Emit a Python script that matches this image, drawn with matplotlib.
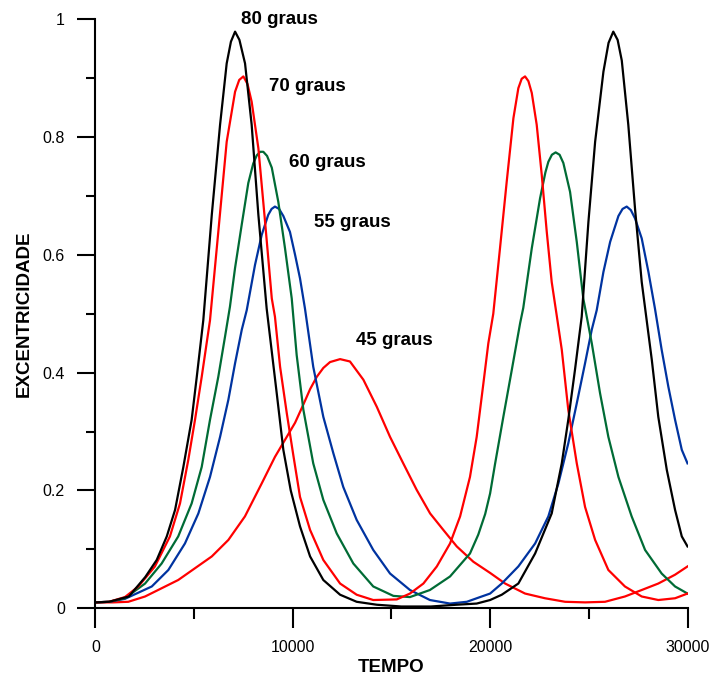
import matplotlib
matplotlib.use('Agg')
import matplotlib.pyplot as plt

plt.rcParams['font.family'] = ['Liberation Sans', 'DejaVu Sans']

# eccentricity vs time
t80 = [0, 700, 1700, 2530, 3110, 3620, 4040, 4460, 4880, 5140, 5470, 5900, 6320, 6655,
       6870, 7080, 7300, 7585, 7920, 8260, 8680, 9190, 9525, 9900, 10370, 10880, 11550,
       12400, 13240, 14260, 15500, 17000, 18300, 19320, 20000, 20590, 21430, 22280, 23120,
       23630, 23960, 24300, 24640, 24980, 25320, 25740, 26000, 26240, 26460, 26670, 27000,
       27340, 27680, 28190, 28520, 28950, 29370, 29710, 30000]
e80 = [0.010, 0.011, 0.020, 0.053, 0.082, 0.122, 0.167, 0.240, 0.320, 0.393, 0.489, 0.668,
       0.821, 0.925, 0.962, 0.979, 0.965, 0.925, 0.821, 0.668, 0.509, 0.365, 0.269, 0.200,
       0.139, 0.088, 0.048, 0.023, 0.011, 0.006, 0.003, 0.003, 0.006, 0.008, 0.014, 0.023,
       0.042, 0.093, 0.161, 0.246, 0.320, 0.405, 0.495, 0.656, 0.792, 0.911, 0.960, 0.979,
       0.965, 0.930, 0.821, 0.679, 0.554, 0.422, 0.325, 0.235, 0.167, 0.122, 0.105]

t70 = [0, 700, 1500, 2180, 3020, 3780, 4290, 4710, 5050, 5390, 5810, 6230, 6655, 7080,
       7290, 7500, 7710, 7920, 8260, 8600, 8940, 9100, 9360, 9700, 10030, 10370, 10880,
       11550, 12400, 13240, 14080, 15270, 15940, 16620, 17300, 17970, 18480, 18980, 19320,
       19660, 19910, 20160, 20500, 20840, 21180, 21430, 21600, 21770, 21940, 22110, 22360,
       22615, 22870, 23120, 23370, 23630, 23960, 24390, 24810, 25320, 25990, 26830, 27680,
       28520, 29370, 30000]
e70 = [0.010, 0.011, 0.019, 0.037, 0.071, 0.122, 0.178, 0.252, 0.320, 0.393, 0.489, 0.639,
       0.792, 0.877, 0.897, 0.903, 0.890, 0.860, 0.781, 0.656, 0.526, 0.495, 0.410, 0.331,
       0.260, 0.189, 0.133, 0.082, 0.042, 0.023, 0.014, 0.015, 0.025, 0.042, 0.071, 0.110,
       0.156, 0.223, 0.291, 0.382, 0.450, 0.500, 0.611, 0.724, 0.832, 0.883, 0.899, 0.903,
       0.895, 0.875, 0.821, 0.736, 0.639, 0.554, 0.498, 0.439, 0.337, 0.246, 0.172, 0.116,
       0.065, 0.037, 0.020, 0.014, 0.017, 0.025]

t60 = [0, 700, 1500, 2520, 3360, 4200, 4880, 5390, 5810, 6230, 6570, 6820, 7080, 7420,
       7750, 8000, 8180, 8350, 8510, 8700, 8940, 9270, 9610, 9950, 10200, 10540, 11040,
       11550, 12230, 13070, 14080, 15100, 15940, 16950, 17970, 18980, 19400, 19750, 20000,
       20250, 20670, 21100, 21520, 21680, 22110, 22530, 22800, 22950, 23130, 23320, 23520,
       23710, 24050, 24390, 24720, 25150, 25570, 25990, 26500, 27170, 27850, 28690, 29370,
       30000]
e60 = [0.010, 0.011, 0.017, 0.042, 0.076, 0.122, 0.178, 0.240, 0.320, 0.393, 0.461, 0.512,
       0.578, 0.652, 0.722, 0.755, 0.769, 0.775, 0.775, 0.768, 0.748, 0.690, 0.611, 0.526,
       0.430, 0.337, 0.246, 0.184, 0.127, 0.076, 0.037, 0.021, 0.019, 0.031, 0.054, 0.093,
       0.125, 0.160, 0.195, 0.245, 0.325, 0.405, 0.484, 0.510, 0.611, 0.696, 0.740, 0.758,
       0.770, 0.774, 0.770, 0.756, 0.707, 0.622, 0.526, 0.450, 0.365, 0.291, 0.223, 0.156,
       0.099, 0.059, 0.037, 0.025]

t55 = [0, 700, 1500, 2860, 3700, 4540, 5220, 5810, 6320, 6740, 7080, 7420, 7670, 8090,
       8430, 8760, 8930, 9100, 9310, 9525, 9860, 10120, 10370, 10620, 11040, 11550, 12060,
       12560, 13240, 14080, 14930, 15940, 16950, 17970, 18820, 19490, 20000, 20590, 21430,
       22280, 22950, 23460, 23960, 24390, 24810, 25150, 25400, 25740, 26080, 26500, 26710,
       26920, 27130, 27340, 27680, 28020, 28350, 28690, 29030, 29370, 29710, 30000]
e55 = [0.010, 0.011, 0.016, 0.037, 0.065, 0.110, 0.161, 0.223, 0.291, 0.354, 0.416, 0.473,
       0.506, 0.583, 0.634, 0.668, 0.678, 0.682, 0.678, 0.666, 0.639, 0.600, 0.560, 0.509,
       0.410, 0.325, 0.263, 0.206, 0.150, 0.099, 0.059, 0.031, 0.014, 0.008, 0.011, 0.019,
       0.025, 0.042, 0.071, 0.110, 0.156, 0.212, 0.280, 0.348, 0.416, 0.473, 0.506, 0.571,
       0.622, 0.666, 0.678, 0.682, 0.676, 0.662, 0.628, 0.571, 0.509, 0.439, 0.376, 0.320,
       0.269, 0.246]

t45 = [0, 900, 1670, 2520, 3360, 4200, 5050, 5900, 6740, 7580, 8430, 9100, 9610, 10120,
       10540, 10880, 11220, 11550, 11890, 12400, 12900, 13580, 14260, 14930, 15600, 16280,
       16960, 17630, 18310, 19150, 20000, 20760, 21770, 22780, 23800, 24810, 25820, 26830,
       27680, 28520, 29370, 30000]
e45 = [0.010, 0.010, 0.011, 0.020, 0.034, 0.048, 0.068, 0.088, 0.116, 0.156, 0.212, 0.257,
       0.286, 0.315, 0.346, 0.372, 0.393, 0.408, 0.418, 0.423, 0.419, 0.388, 0.342, 0.291,
       0.246, 0.201, 0.161, 0.133, 0.105, 0.079, 0.060, 0.042, 0.025, 0.017, 0.011, 0.010,
       0.011, 0.020, 0.031, 0.042, 0.057, 0.071]

labels = ['80 graus', '70 graus', '60 graus', '55 graus', '45 graus']
label_x = [7390, 8800, 9810, 11080, 13190]
label_y = [0.992, 0.879, 0.750, 0.648, 0.447]

fig = plt.figure(figsize=(7.14, 6.81), dpi=100)
ax = fig.add_axes([0.1335, 0.1068, 0.8294, 0.8649])

lw = 1.6
ax.plot(t45, e45, color='#ff0000', lw=lw)
ax.plot(t55, e55, color='#0033a0', lw=lw)
ax.plot(t60, e60, color='#006b35', lw=lw)
ax.plot(t70, e70, color='#ff0000', lw=lw)
ax.plot(t80, e80, color='black', lw=lw)

for s, x, y in zip(labels, label_x, label_y):
    ax.text(x, y, s, fontsize=13.5, fontweight='bold', ha='left', va='baseline')

ax.set_xlim(0, 30000)
ax.set_ylim(0, 1)
ax.spines['top'].set_visible(False)
ax.spines['right'].set_visible(False)
for side in ['left', 'bottom']:
    ax.spines[side].set_linewidth(1.5)

ax.set_xticks([0, 10000, 20000, 30000])
ax.set_xticklabels(['0', '10000', '20000', '30000'])
ax.set_xticks([5000, 15000, 25000], minor=True)
ax.set_yticks([0, 0.2, 0.4, 0.6, 0.8, 1.0])
ax.set_yticklabels(['0', '0.2', '0.4', '0.6', '0.8', '1'])
ax.set_yticks([0.1, 0.3, 0.5, 0.7, 0.9], minor=True)

ax.tick_params(axis='x', which='major', direction='out', length=14.5, width=1.5,
               pad=8.5, labelsize=11.5)
ax.tick_params(axis='x', which='minor', direction='out', length=8, width=1.5)
ax.tick_params(axis='y', which='major', direction='out', length=13, width=1.5,
               pad=9, labelsize=11.5)
ax.tick_params(axis='y', which='minor', direction='out', length=6.5, width=1.5)

ax.set_xlabel('TEMPO', fontsize=13.5, fontweight='bold')
ax.xaxis.set_label_coords(0.5, -0.1005)
ax.xaxis.label.set_va('center')
ax.set_ylabel('EXCENTRICIDADE', fontsize=13.5, fontweight='bold')
ax.yaxis.set_label_coords(-0.1204, 0.5)
ax.yaxis.label.set_va('center')

fig.savefig('out.png', dpi=100)
